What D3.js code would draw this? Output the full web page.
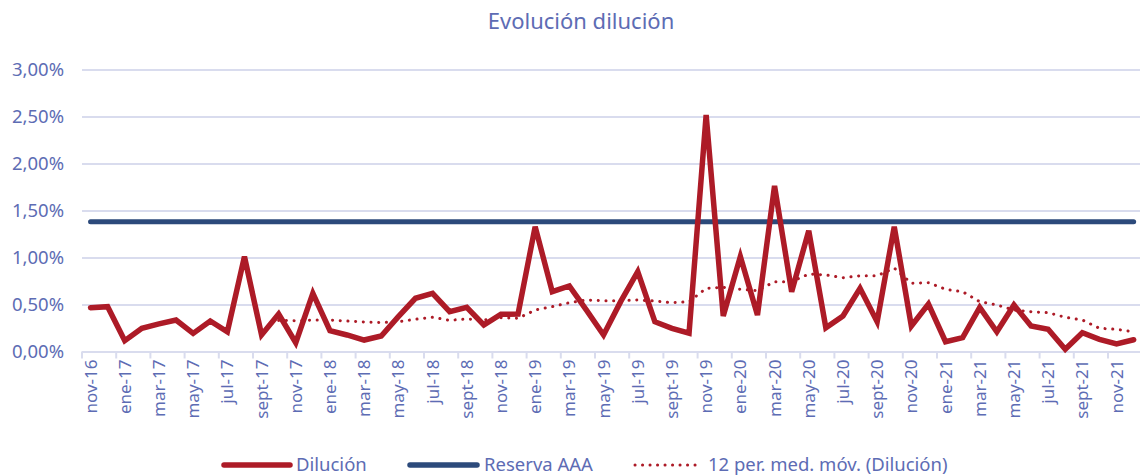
<!DOCTYPE html>
<html>
<head>
<meta charset="utf-8">
<script src="https://cdn.jsdelivr.net/npm/d3@7"></script>
<style>
  body { margin: 0; background: #fff; }
  svg { display: block; font-family: "Noto Sans", sans-serif; }
</style>
</head>
<body>
<svg id="chart"></svg>
<script>
/* Data */
var months = ['nov-16','dic-16','ene-17','feb-17','mar-17','abr-17','may-17','jun-17','jul-17','ago-17','sept-17','oct-17',
              'nov-17','dic-17','ene-18','feb-18','mar-18','abr-18','may-18','jun-18','jul-18','ago-18','sept-18','oct-18',
              'nov-18','dic-18','ene-19','feb-19','mar-19','abr-19','may-19','jun-19','jul-19','ago-19','sept-19','oct-19',
              'nov-19','dic-19','ene-20','feb-20','mar-20','abr-20','may-20','jun-20','jul-20','ago-20','sept-20','oct-20',
              'nov-20','dic-20','ene-21','feb-21','mar-21','abr-21','may-21','jun-21','jul-21','ago-21','sept-21','oct-21',
              'nov-21','dic-21'];

var dilucion = [0.466,0.477,0.115,0.247,0.293,0.335,0.193,0.324,0.210,1.010,0.176,0.399,
                0.094,0.619,0.221,0.176,0.122,0.165,0.370,0.566,0.619,0.423,0.470,0.282,
                0.396,0.399,1.328,0.636,0.697,0.441,0.176,0.530,0.849,0.317,0.247,0.194,
                2.516,0.378,1.010,0.388,1.761,0.636,1.285,0.252,0.378,0.672,0.317,1.328,
                0.271,0.505,0.104,0.147,0.470,0.210,0.495,0.271,0.236,0.023,0.200,0.130,
                0.080,0.125];

/* 12 per. med. móv. starts at the 12th month */
var mediaMovil = [0.330,0.328,0.335,0.335,0.324,0.314,0.307,0.317,0.343,0.364,0.332,
                  0.346,0.335,0.360,0.353,0.441,0.477,0.519,0.548,0.540,0.540,0.548,
                  0.537,0.519,0.530,0.672,0.683,0.662,0.647,0.743,0.743,0.824,0.814,
                  0.785,0.806,0.806,0.887,0.726,0.732,0.662,0.636,0.530,0.495,0.441,
                  0.423,0.413,0.364,0.335,0.247,0.236,0.210];

var reservaAAA = 1.38;

var yTicks = [0, 0.5, 1, 1.5, 2, 2.5, 3];

var legendNames = ['Dilución', 'Reserva AAA', '12 per. med. móv. (Dilución)'];

/* Styles */
var svgPar = { svgWidth: 1140, svgHeight: 475, svgColor: '#ffffff' };
var textColor = '#5d6cb4';
var gridColor = '#d9dcee';
var redColor = '#ad1b27';
var blueColor = '#2c4a7b';

var svg = d3.select('svg#chart')
    .attr('width', svgPar.svgWidth)
    .attr('height', svgPar.svgHeight)
    .style('background', svgPar.svgColor);

var x = d3.scaleBand()
    .domain(months)
    .range([82, 82 + months.length * 17.1])
    .padding(0);

var y = d3.scaleLinear()
    .domain([0, 3])
    .range([351.5, 69.5]);

var fmt = d3.formatLocale({ decimal: ',', thousands: '.', grouping: [3], currency: ['', '€'] }).format('.2f');

function cx(m){ return x(m) + x.bandwidth() / 2; }

/* Title */
svg.append('text')
    .attr('x', 581)
    .attr('y', 29)
    .attr('text-anchor', 'middle')
    .attr('font-size', '22px')
    .attr('fill', textColor)
    .text('Evolución dilución');

/* Grid + y labels */
var yAxis = d3.axisLeft(y)
    .tickValues(yTicks)
    .tickSize(-(1140 - 82))
    .tickFormat(d => fmt(d) + '%');

var gy = svg.append('g')
    .attr('transform', 'translate(82,0)')
    .call(yAxis);

gy.select('.domain').remove();
gy.selectAll('.tick line').attr('stroke', gridColor).attr('stroke-width', 2);
gy.selectAll('.tick text')
    .attr('x', -18)
    .attr('fill', textColor)
    .attr('font-size', '18.5px')
    .attr('font-family', '"Noto Sans", sans-serif');

/* X axis: ticks every two months on band edges */
var edgeMonths = months.filter((m, i) => i % 2 === 0);

svg.append('g')
    .selectAll('line.xtick')
    .data(edgeMonths)
    .enter()
    .append('line')
    .attr('class', 'xtick')
    .attr('x1', d => x(d))
    .attr('x2', d => x(d))
    .attr('y1', y(0))
    .attr('y2', y(0) + 7)
    .attr('stroke', gridColor)
    .attr('stroke-width', 2);

svg.append('g')
    .selectAll('text.xlab')
    .data(edgeMonths)
    .enter()
    .append('text')
    .attr('class', 'xlab')
    .attr('transform', d => `translate(${cx(d) + 6},${y(0) + 8}) rotate(-90)`)
    .attr('text-anchor', 'end')
    .attr('font-size', '17px')
    .attr('fill', textColor)
    .text(d => d);

/* Lines */
var line = d3.line()
    .x(d => cx(d.m))
    .y(d => y(d.v));

svg.append('path')
    .datum([{ m: months[0], v: reservaAAA }, { m: months[months.length - 1], v: reservaAAA }])
    .attr('d', line)
    .attr('fill', 'none')
    .attr('stroke', blueColor)
    .attr('stroke-width', 5)
    .attr('stroke-linecap', 'round');

svg.append('path')
    .datum(mediaMovil.map((v, i) => ({ m: months[i + 11], v: v })))
    .attr('d', line)
    .attr('fill', 'none')
    .attr('stroke', redColor)
    .attr('stroke-width', 3)
    .attr('stroke-dasharray', '0.1 7.6')
    .attr('stroke-linecap', 'round');

svg.append('path')
    .datum(dilucion.map((v, i) => ({ m: months[i], v: v })))
    .attr('d', line)
    .attr('fill', 'none')
    .attr('stroke', redColor)
    .attr('stroke-width', 5.5)
    .attr('stroke-linejoin', 'miter')
    .attr('stroke-linecap', 'round');

/* Legend */
var legendItems = [
    { name: legendNames[0], x1: 224, x2: 290, tx: 296, color: redColor, width: 5.5, dash: null },
    { name: legendNames[1], x1: 410, x2: 477, tx: 484, color: blueColor, width: 5.5, dash: null },
    { name: legendNames[2], x1: 635, x2: 699, tx: 708, color: redColor, width: 3, dash: '0.1 7.4' }
];

var lg = svg.append('g').selectAll('g.leg')
    .data(legendItems)
    .enter()
    .append('g')
    .attr('class', 'leg');

lg.append('line')
    .attr('x1', d => d.x1)
    .attr('x2', d => d.x2)
    .attr('y1', 465)
    .attr('y2', 465)
    .attr('stroke', d => d.color)
    .attr('stroke-width', d => d.width)
    .attr('stroke-dasharray', d => d.dash)
    .attr('stroke-linecap', 'round');

lg.append('text')
    .attr('x', d => d.tx)
    .attr('y', 471)
    .attr('font-size', '18.5px')
    .attr('fill', textColor)
    .text(d => d.name);
</script>
</body>
</html>
